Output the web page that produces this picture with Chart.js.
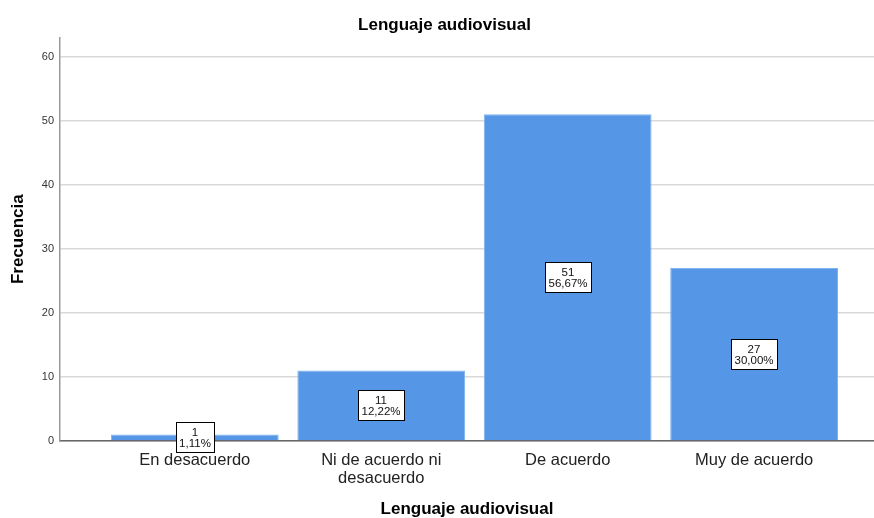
<!DOCTYPE html>
<html lang="es">
<head>
  <meta charset="UTF-8">
  <title>Lenguaje audiovisual</title>
  <script src="https://cdn.jsdelivr.net/npm/chart.js"></script>
  <style>
    html, body { margin: 0; padding: 0; background: #fff; }
    #wrap { width: 874px; height: 518px; }
  </style>
</head>
<body>
  <div id="wrap"><canvas id="barChart"></canvas></div>
  <script>
    // datos
    const categorias = ['En desacuerdo', ['Ni de acuerdo ni', 'desacuerdo'], 'De acuerdo', 'Muy de acuerdo'];
    const frecuencias = [1, 11, 51, 27];
    const porcentajes = ['1,11%', '12,22%', '56,67%', '30,00%'];
    const ticksY = [0, 10, 20, 30, 40, 50, 60];

    const azul = 'rgb(85, 150, 230)';

    // cajas con frecuencia y porcentaje en el centro de cada barra
    const etiquetas = {
      id: 'etiquetas',
      afterDatasetsDraw(chart) {
        const ctx = chart.ctx;
        const meta = chart.getDatasetMeta(0);
        ctx.save();
        ctx.font = '11.5px Arial, "Liberation Sans", sans-serif';
        ctx.textAlign = 'center';
        ctx.textBaseline = 'middle';
        meta.data.forEach(function (bar, i) {
          const p = bar.getProps(['x', 'y', 'base'], true);
          const cx = Math.round(p.x);
          const cy = (p.y + p.base) / 2;
          const l1 = String(frecuencias[i]);
          const l2 = porcentajes[i];
          const w = Math.ceil(Math.max(ctx.measureText(l1).width, ctx.measureText(l2).width)) + 6;
          const h = 30;
          const x0 = Math.round(cx - w / 2) + 0.5;
          const y0 = Math.round(cy - h / 2) + 0.5;
          ctx.fillStyle = '#fff';
          ctx.fillRect(x0, y0, w, h);
          ctx.strokeStyle = '#000';
          ctx.lineWidth = 1;
          ctx.strokeRect(x0, y0, w, h);
          ctx.fillStyle = '#111';
          ctx.fillText(l1, cx, y0 + 10);
          ctx.fillText(l2, cx, y0 + 21);
        });
        ctx.restore();
      }
    };

    const ctx = document.getElementById('barChart').getContext('2d');
    const chart = new Chart(ctx, {
      type: 'bar',
      data: {
        datasets: [{
          data: frecuencias.map(function (v, i) { return { x: i, y: v }; }),
          backgroundColor: azul,
          borderColor: '#7fb2ee',
          borderWidth: 1,
          barPercentage: 0.9,
          categoryPercentage: 1
        }]
      },
      options: {
        responsive: true,
        maintainAspectRatio: false,
        animation: false,
        layout: { padding: { left: 15, right: 0, top: 0, bottom: 0 } },
        plugins: {
          legend: { display: false },
          tooltip: { enabled: false },
          title: {
            display: true,
            text: 'Lenguaje audiovisual',
            color: '#000',
            font: { family: 'Arial, "Liberation Sans", sans-serif', size: 17, weight: 'bold' },
            padding: { top: 15, bottom: 2 }
          }
        },
        scales: {
          x: {
            type: 'linear',
            offset: false,
            min: -0.723,
            max: 3.643,
            grid: { display: false, drawTicks: false, offset: false },
            border: { color: '#666', width: 1.5 },
            afterBuildTicks: function (scale) {
              scale.ticks = categorias.map(function (c, i) { return { value: i }; });
            },
            afterFit: function (scale) { scale.height = 77; },
            ticks: {
              color: '#222',
              padding: 11,
              maxRotation: 0,
              autoSkip: false,
              font: { family: 'Arial, "Liberation Sans", sans-serif', size: 16.5, lineHeight: 1.08 },
              callback: function (value) { return categorias[value]; }
            },
            title: {
              display: true,
              text: 'Lenguaje audiovisual',
              color: '#000',
              font: { family: 'Arial, "Liberation Sans", sans-serif', size: 17, weight: 'bold', lineHeight: 1 },
              padding: { top: 0, bottom: 0 }
            }
          },
          y: {
            min: 0,
            max: 63,
            grid: { color: '#d9d9d9', lineWidth: 1.5, drawTicks: false },
            border: { color: '#999', width: 1.5 },
            afterBuildTicks: function (scale) {
              scale.ticks = ticksY.map(function (v) { return { value: v }; });
            },
            afterFit: function (scale) { scale.width = 45; },
            ticks: {
              color: '#333',
              padding: 6,
              font: { family: 'Arial, "Liberation Sans", sans-serif', size: 11 }
            },
            title: {
              display: true,
              text: 'Frecuencia',
              color: '#000',
              font: { family: 'Arial, "Liberation Sans", sans-serif', size: 17, weight: 'bold' },
              padding: { top: -7, bottom: 0 }
            }
          }
        }
      },
      plugins: [etiquetas]
    });
  </script>
</body>
</html>
